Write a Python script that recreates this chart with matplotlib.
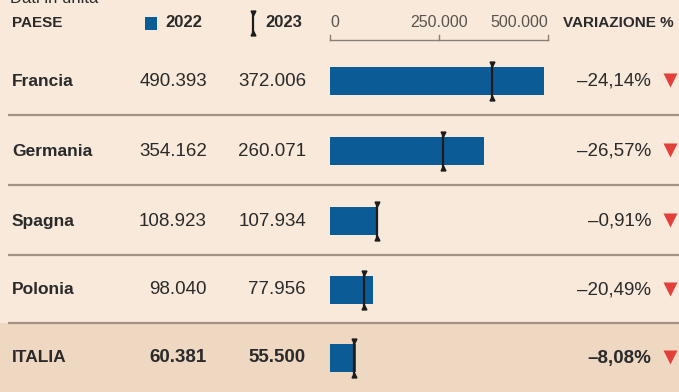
import matplotlib
matplotlib.use("Agg")
import matplotlib.pyplot as plt
from matplotlib.patches import Rectangle

plt.rcParams['font.family'] = ['Liberation Sans', 'DejaVu Sans']

# ---- data ----
paesi = ["Francia", "Germania", "Spagna", "Polonia", "ITALIA"]
val_2022 = [490393, 354162, 108923, 98040, 60381]
val_2023 = [372006, 260071, 107934, 77956, 55500]
lab_2022 = ["490.393", "354.162", "108.923", "98.040", "60.381"]
lab_2023 = ["372.006", "260.071", "107.934", "77.956", "55.500"]
variazione = ["–24,14%", "–26,57%", "–0,91%", "–20,49%", "–8,08%"]
ticks = [0, 250000, 500000]
tick_labels = ["0", "250.000", "500.000"]

# ---- style ----
BG = "#f8e9da"
BAND = "#eed8c2"
BAR = "#0b5c96"
MARK = "#1c1c1c"
SEP = "#a39282"
TXT = "#2a2a2a"
RED = "#e2403a"

W, H = 679, 392
fig = plt.figure(figsize=(W / 100, H / 100), dpi=100)
fig.patch.set_facecolor(BG)

ax = fig.add_axes([0, 0, 1, 1])
ax.set_xlim(0, W)
ax.set_ylim(H, 0)
ax.axis("off")
ax.set_facecolor(BG)

row_y = [81, 151, 221, 290, 358]
seps = [115, 185, 255, 323]

# Italia highlight band
ax.add_patch(Rectangle((0, 323), W, H - 323, facecolor=BAND, edgecolor="none", zorder=0))
for s in seps:
    ax.plot([8, W], [s, s], color=SEP, lw=1.6, zorder=1, solid_capstyle="butt")

# cut-off subtitle at top (only its lower part is visible in the reference)
ax.text(10, -2, "Dati in unità", fontsize=12, color=TXT, va="center", ha="left")

# header
hy = 22.5
ax.text(12, hy, "PAESE", fontsize=11, fontweight="bold", color=TXT, va="center")
ax.add_patch(Rectangle((145, 17), 12, 12.5, facecolor=BAR, edgecolor="none"))
ax.text(165, hy, "2022", fontsize=12, fontweight="bold", color=TXT, va="center")
ax.plot([253, 253], [12.5, 33], color=MARK, lw=1.6)
ax.plot([253], [13], marker="v", color=MARK, ms=3.5)
ax.plot([253], [32.5], marker="^", color=MARK, ms=3.5)
ax.text(265, hy, "2023", fontsize=12, fontweight="bold", color=TXT, va="center")
ax.text(674, hy, "VARIAZIONE %", fontsize=11, fontweight="bold", color=TXT,
        va="center", ha="right")

# rows text
for i, p in enumerate(paesi):
    y = row_y[i]
    bold = (p == "ITALIA")
    ax.text(12, y, p, fontsize=12.5, fontweight="bold",
            color=TXT, va="center", ha="left")
    fw = "bold" if bold else "normal"
    ax.text(207, y, lab_2022[i], fontsize=13.5, fontweight=fw, color=TXT,
            va="center", ha="right")
    ax.text(306, y, lab_2023[i], fontsize=13.5, fontweight=fw, color=TXT,
            va="center", ha="right")
    ax.text(651, y, variazione[i], fontsize=13.5, fontweight=fw, color=TXT,
            va="center", ha="right")
    ax.plot([670], [y - 1], marker="v", color=RED, ms=10, mec="none")

# bar axes
x0, x1 = 330, 548
bx = fig.add_axes([x0 / W, 0, (x1 - x0) / W, 1])
bx.set_xlim(0, 500000)
bx.set_ylim(H, 0)
bx.axis("off")
bx.patch.set_alpha(0)

bx.barh(row_y, val_2022, height=28, color=BAR, clip_on=False, zorder=2)
for y, v in zip(row_y, val_2023):
    bx.plot([v, v], [y - 17, y + 17], color=MARK, lw=1.6, clip_on=False, zorder=3)
    bx.plot([v], [y - 17], marker="v", color=MARK, ms=3.5, clip_on=False, zorder=3)
    bx.plot([v], [y + 17], marker="^", color=MARK, ms=3.5, clip_on=False, zorder=3)

# axis bracket
bx.plot([ticks[0], ticks[-1]], [40, 40], color="#8a7f74", lw=1.0, clip_on=False)
for t in ticks:
    bx.plot([t, t], [35, 40], color="#8a7f74", lw=1.0, clip_on=False)
ha_map = ["left", "center", "right"]
for t, lab, ha in zip(ticks, tick_labels, ha_map):
    bx.text(t, hy, lab, fontsize=11.5, color="#5a5350", va="center", ha=ha)

fig.savefig("out.png", dpi=100, facecolor=BG)
